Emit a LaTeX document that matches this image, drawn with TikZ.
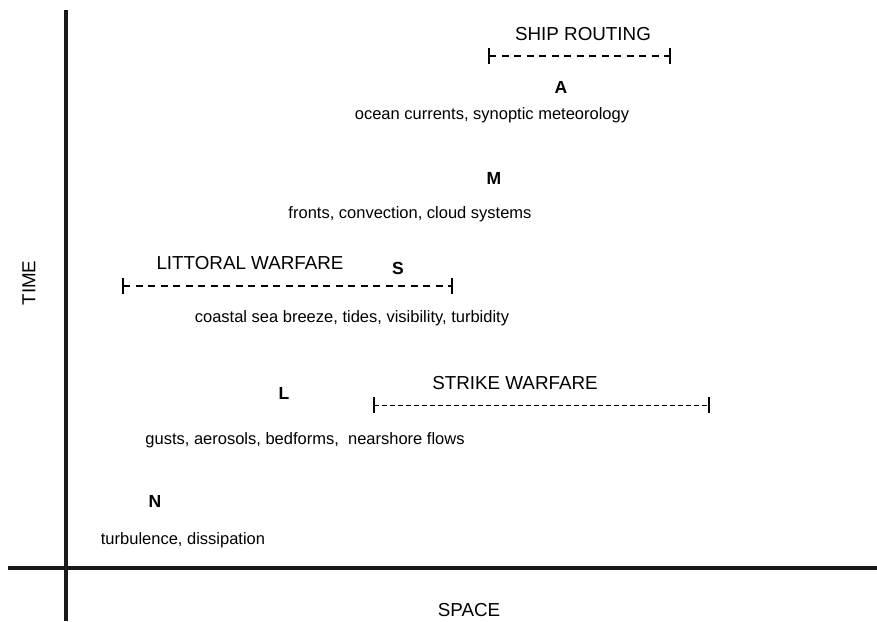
\documentclass[tikz,border=0pt]{standalone}
\usepackage{fontspec}
\setmainfont{Liberation Sans}
\begin{document}
\begin{tikzpicture}[x=1pt,y=-1pt,
  lbl/.style={font=\fontsize{16.5}{18}\selectfont, inner sep=0pt, anchor=center},
  tag/.style={font=\fontsize{17.5}{19}\selectfont\bfseries, inner sep=0pt},
  head/.style={font=\fontsize{18.8}{21}\selectfont, inner sep=0pt},
  axis/.style={line width=4.5pt, black!90},
  span/.style={line width=1.3pt, dash pattern=on 7pt off 5.5pt},
  spanfine/.style={line width=1pt, dash pattern=on 5pt off 3pt},
  tick/.style={line width=2.2pt}]
\useasboundingbox (0,0) rectangle (877,621);

% axes
\coordinate (vtop) at (66,10);
\coordinate (vbot) at (66,621);
\coordinate (hl) at (8,568);
\coordinate (hr) at (877,568);
\draw[axis] (vtop) -- (vbot);
\draw[axis] (hl) -- (hr);
\node[head, rotate=90] (time) at (29,283) {TIME};
\node[head] (space) at (469,610) {SPACE};

% ship routing
\node[head] (ship) at (583,34) {SHIP ROUTING};
\coordinate (s1) at (489,56);
\coordinate (s2) at (670,56);
\draw[span] (s1) -- (s2);
\draw[tick] ([yshift=-8]s1) -- ([yshift=8]s1);
\draw[tick] ([yshift=-8]s2) -- ([yshift=8]s2);
\node[tag] (A) at (561,87) {A};
\node[lbl] (ocean) at (492,115) {ocean currents, synoptic meteorology};

% mesoscale
\node[tag] (M) at (494,178) {M};
\node[lbl] (fronts) at (410,214) {fronts, convection, cloud systems};

% littoral warfare
\node[head] (litt) at (250,263) {LITTORAL WARFARE};
\node[tag] (S) at (398,268) {S};
\coordinate (l1) at (123,286);
\coordinate (l2) at (452,286);
\draw[span] (l1) -- (l2);
\draw[tick] ([yshift=-8]l1) -- ([yshift=8]l1);
\draw[tick] ([yshift=-8]l2) -- ([yshift=8]l2);
\node[lbl] (coast) at (352,318) {coastal sea breeze, tides, visibility, turbidity};

% strike warfare
\node[tag] (L) at (284,393) {L};
\node[head] (strike) at (515,383) {STRIKE WARFARE};
\coordinate (k1) at (374,405);
\coordinate (k2) at (709,405);
\draw[spanfine] (k1) -- (k2);
\draw[tick] ([yshift=-8]k1) -- ([yshift=8]k1);
\draw[tick] ([yshift=-8]k2) -- ([yshift=8]k2);
\node[lbl] (gusts) at (305,440) {gusts, aerosols, bedforms,\ \ nearshore flows};

% small scale
\node[tag] (N) at (155,501) {N};
\node[lbl] (turb) at (183,540) {turbulence, dissipation};
\end{tikzpicture}
\end{document}
